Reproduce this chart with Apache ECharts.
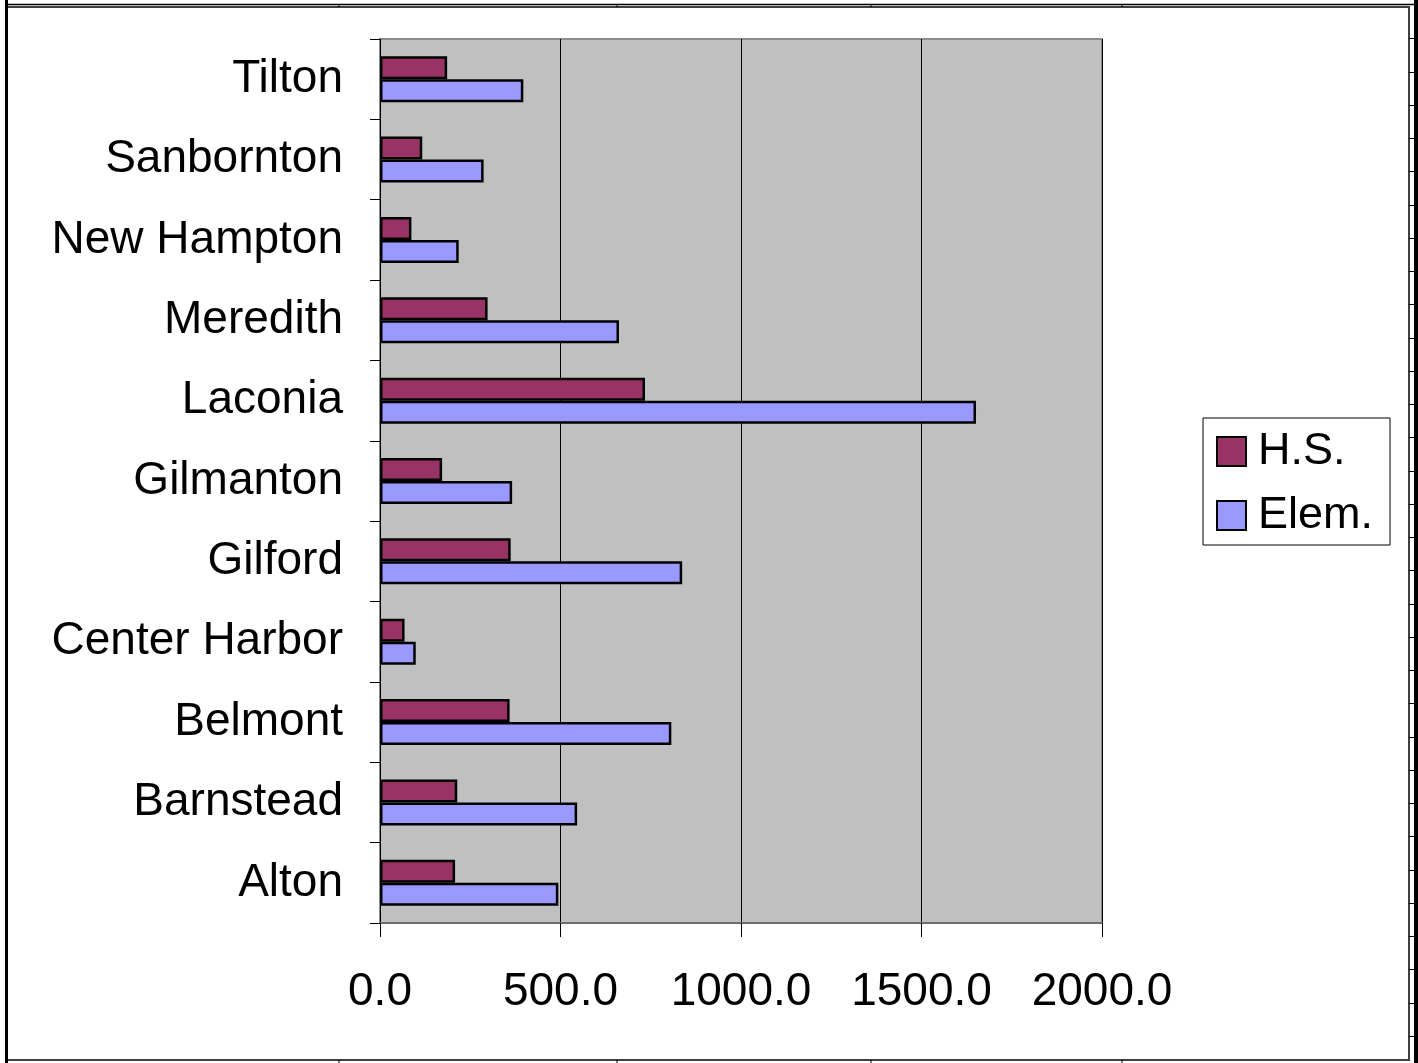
<!DOCTYPE html>
<html>
<head>
<meta charset="utf-8">
<script src="https://cdn.jsdelivr.net/npm/echarts@6/dist/echarts.min.js"></script>
<style>
html,body{margin:0;padding:0;background:#fff;}
#chart{width:1418px;height:1063px;}
</style>
</head>
<body>
<div id="chart"></div>
<script>
// Categories bottom-to-top (ECharts category y-axis starts at the bottom)
const towns = ['Alton','Barnstead','Belmont','Center Harbor','Gilford','Gilmanton','Laconia','Meredith','New Hampton','Sanbornton','Tilton'];
const hsValues   = [208, 214, 359, 68, 362, 172, 734, 298, 87, 117, 186];
const elemValues = [494, 546, 807, 99, 837, 366, 1651, 662, 218, 287, 397];
const seriesNames = ['H.S.', 'Elem.'];
const xTicks = [0, 500, 1000, 1500, 2000];

const FONT = "'Liberation Sans', Arial, sans-serif";
const chart = echarts.init(document.getElementById('chart'));

// spreadsheet cell-grid decorations around the chart object
const deco = [];
deco.push({type:'rect', shape:{x:7,y:7,width:1402,height:1053}, style:{fill:'none', stroke:'#404040', lineWidth:2}, z:0});
deco.push({type:'rect', shape:{x:5,y:0,width:3,height:1063}, style:{fill:'#000'}});
deco.push({type:'rect', shape:{x:1414,y:0,width:4,height:1063}, style:{fill:'#000'}});
deco.push({type:'line', shape:{x1:8,y1:4.5,x2:1414,y2:4.5}, style:{stroke:'#000', lineWidth:1.5}});
[339, 617, 871, 1122].forEach(x => {
  deco.push({type:'line', shape:{x1:x,y1:4,x2:x,y2:7}, style:{stroke:'#000', lineWidth:1}});
  deco.push({type:'line', shape:{x1:x,y1:1060,x2:x,y2:1063}, style:{stroke:'#000', lineWidth:1}});
});
for (let k = 0; k <= 30; k++) {
  const y = Math.round(38.3 + k * 33.25) + 0.5;
  deco.push({type:'line', shape:{x1:1409,y1:y,x2:1414,y2:y}, style:{stroke:'#000', lineWidth:1}});
}

chart.setOption({
  backgroundColor: '#fff',
  animation: false,
  textStyle: { fontFamily: FONT },
  graphic: deco,
  grid: {
    left: 380, right: 316, top: 39, bottom: 140,
    show: true, backgroundColor: '#c0c0c0', borderColor: '#8c8c8c', borderWidth: 2
  },
  legend: {
    orient: 'vertical',
    left: 1203, top: 418,
    data: seriesNames,
    icon: 'rect',
    itemWidth: 29, itemHeight: 29, itemGap: 19,
    padding: [11, 17, 7, 13],
    backgroundColor: '#fff',
    borderColor: '#000', borderWidth: 1,
    textStyle: { fontSize: 45, color: '#000', fontFamily: FONT, padding: [0,0,0,7] }
  },
  xAxis: {
    type: 'value',
    min: xTicks[0], max: xTicks[xTicks.length-1], interval: 500,
    axisLine: { show: true, lineStyle: { color: '#6e6e6e', width: 2 } },
    axisTick: { show: true, length: 14, lineStyle: { color: '#000', width: 1 } },
    axisLabel: { fontSize: 46, color: '#000', margin: 46, fontFamily: FONT, formatter: v => v.toFixed(1) },
    splitLine: { show: true, lineStyle: { color: '#000', width: 1 } }
  },
  yAxis: {
    type: 'category',
    data: towns,
    axisLine: { show: true, lineStyle: { color: '#000', width: 1 } },
    axisTick: { show: true, length: 10, lineStyle: { color: '#000', width: 1 } },
    axisLabel: { fontSize: 46, color: '#000', margin: 37, fontFamily: FONT, padding: [4,0,0,0] },
    splitLine: { show: false }
  },
  series: [
    {
      name: seriesNames[0], type: 'bar', data: hsValues,
      barWidth: 23, barGap: '0%',
      itemStyle: { color: '#993366', borderColor: '#000', borderWidth: 2.5 }
    },
    {
      name: seriesNames[1], type: 'bar', data: elemValues,
      barWidth: 23, barGap: '0%',
      itemStyle: { color: '#9999ff', borderColor: '#000', borderWidth: 2.5 }
    }
  ]
});
</script>
</body>
</html>
